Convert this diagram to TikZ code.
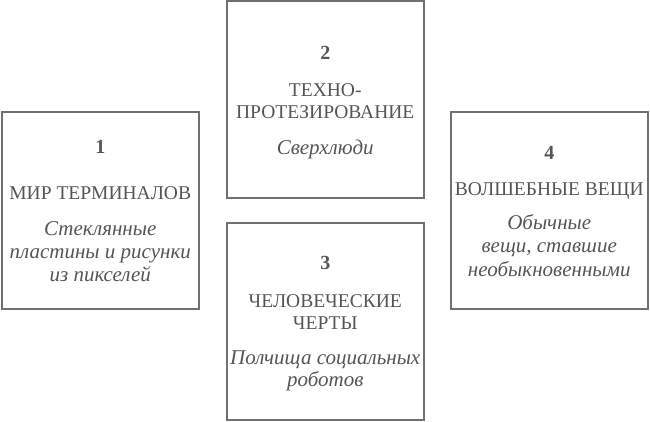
\documentclass[tikz,border=0pt]{standalone}
\usepackage{fontspec}
\setmainfont{Liberation Serif}
\definecolor{boxline}{HTML}{707070}
\definecolor{txt}{HTML}{555555}
\begin{document}
\begin{tikzpicture}[x=1pt,y=1pt,
  card/.style={draw=boxline,line width=2pt,minimum width=197pt,minimum height=197pt,inner sep=0pt},
  num/.style={anchor=base,text=txt,font=\fontsize{20}{22}\selectfont\bfseries,inner sep=0pt},
  ttl/.style={anchor=base,text=txt,font=\fontsize{19.5}{22}\selectfont,inner sep=0pt},
  sub/.style={anchor=base,text=txt,font=\fontsize{21}{23}\selectfont\itshape,inner sep=0pt}]
\useasboundingbox (0,0) rectangle (650,422);
% boxes (y = 422 - pixel row)
\node[card] (b1) at (100.25,211.25) {};
\node[card] (b2) at (325.25,322) {};
\node[card] (b3) at (325.25,100.75) {};
\node[card] (b4) at (549.25,211.25) {};
% box 1
\node[num] (n1) at (100.25,268) {1};
\node[ttl] (t1) at (100.25,222) {МИР ТЕРМИНАЛОВ};
\node[sub] (s1a) at (100.25,186) {Стеклянные};
\node[sub] (s1b) at (100.25,163) {пластины и рисунки};
\node[sub] (s1c) at (100.25,140) {из пикселей};
% box 2
\node[num] (n2) at (325.25,362) {2};
\node[ttl] (t2a) at (325.25,325) {ТЕХНО-};
\node[ttl] (t2b) at (325.25,303) {ПРОТЕЗИРОВАНИЕ};
\node[sub] (s2) at (325.25,267) {Сверхлюди};
% box 3
\node[num] (n3) at (325.25,152) {3};
\node[ttl] (t3a) at (325.25,114) {ЧЕЛОВЕЧЕСКИЕ};
\node[ttl] (t3b) at (325.25,92) {ЧЕРТЫ};
\node[sub] (s3a) at (325.25,57) {Полчища социальных};
\node[sub] (s3b) at (325.25,35) {роботов};
% box 4
\node[num] (n4) at (549.25,262) {4};
\node[ttl] (t4) at (549.25,226) {ВОЛШЕБНЫЕ ВЕЩИ};
\node[sub] (s4a) at (549.25,192) {Обычные};
\node[sub] (s4b) at (549.25,169) {вещи, ставшие};
\node[sub] (s4c) at (549.25,145) {необыкновенными};
\end{tikzpicture}
\end{document}
